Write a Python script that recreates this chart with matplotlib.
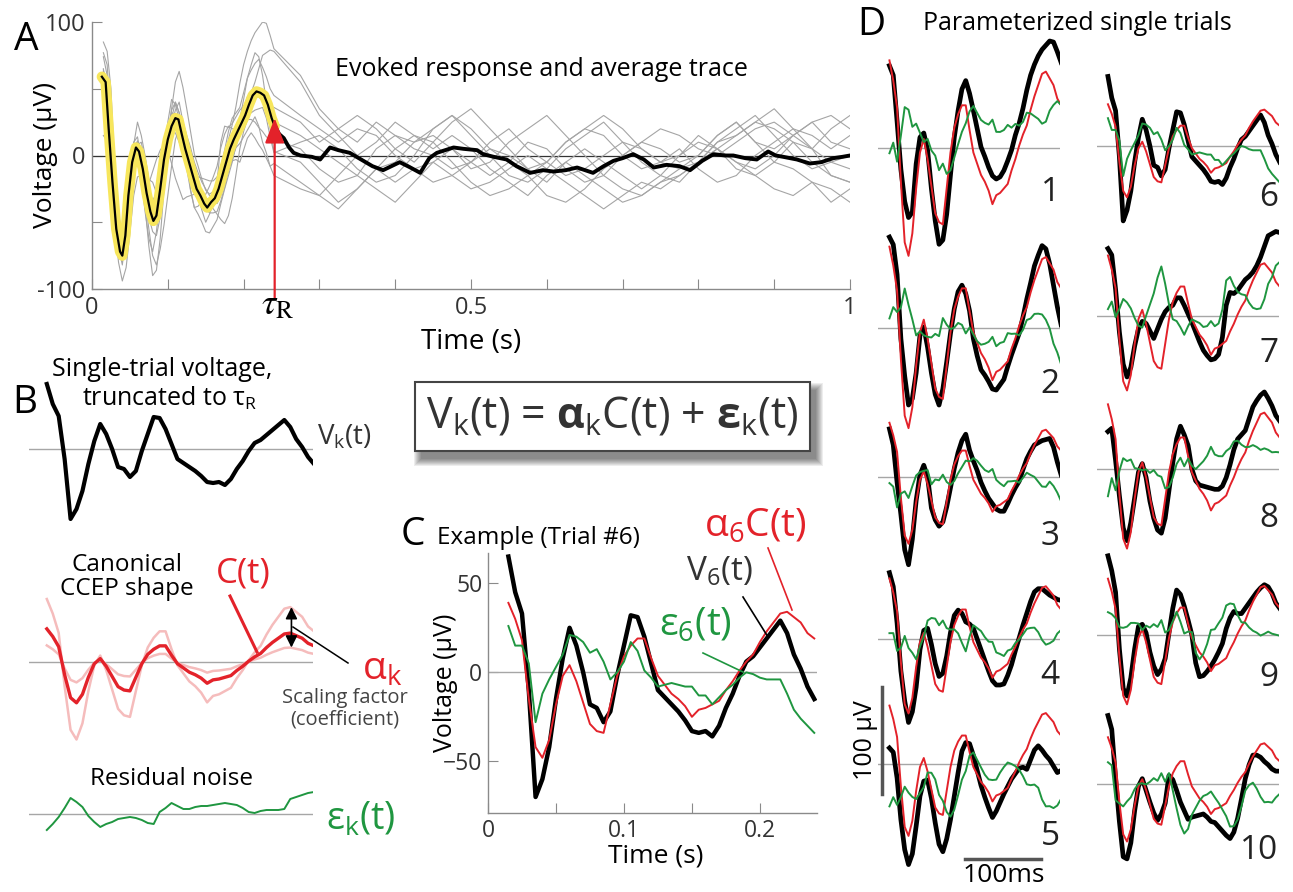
import numpy as np
import matplotlib
matplotlib.use('Agg')
import matplotlib.pyplot as plt
from matplotlib.patches import Rectangle

plt.rcParams['font.family'] = ['Open Sans', 'DejaVu Sans']
plt.rcParams['mathtext.fontset'] = 'custom'
plt.rcParams['mathtext.rm'] = 'Open Sans'
plt.rcParams['mathtext.it'] = 'Open Sans:italic'
plt.rcParams['mathtext.bf'] = 'Open Sans:bold'

W, H = 1293, 892

# ---- data (uV) ----
# sample times of the truncated single trials (s)
t_trial = np.round(0.015 + 0.005 * np.arange(46), 3)

# alpha_6 * C(t): canonical shape as fitted to trial 6
canon_c = [39, 30, 18, -15, -42, -48, -38, -18, -2, 4,
           -5, -17, -29, -33, -34, -18, -2, 9, 15, 19,
           19, 8, -2, -7, -12, -15, -19, -25, -21, -20,
           -18, -16, -10, -5, 1, 6, 10, 17, 23, 28,
           33, 34, 31, 28, 22, 19]

# scaling factors relative to trial 6
alphas = [2.1, 1.95, 1.3, 1.45, 1.4, 1.0, 1.45, 1.55, 1.35, 1.12]

trial_v = [
    [77, 68, 25, -20, -50, -65, -60, -15, 10, 14,
     -2, -38, -68, -90, -86, -62, -25, 10, 35, 55,
     63, 51, 35, 18, 1, -8, -18, -26, -29, -27,
     -21, -12, -2, 12, 23, 37, 54, 68, 78, 86,
     92, 96, 100, 99, 90, 80],
    [85, 78, 50, -10, -45, -72, -66, -42, -7, 1,
     -18, -42, -62, -72, -57, -32, -5, 18, 34, 40,
     32, 16, -10, -26, -39, -44, -50, -57, -58, -53,
     -48, -36, -25, -15, -5, 10, 27, 42, 58, 68,
     77, 74, 60, 40, 20, 3],
    [45, 30, -5, -35, -68, -82, -58, -22, 2, 11,
     0, -29, -40, -46, -42, -28, -10, 8, 23, 34,
     40, 25, 15, 6, -5, -13, -20, -25, -30, -32,
     -32, -25, -17, -10, -4, 7, 17, 24, 30, 32,
     34, 35, 36, 28, 14, 2],
    [62, 49, 15, -30, -58, -78, -68, -45, -10, 8,
     10, -5, -23, -35, -32, -16, 6, 22, 27, 24,
     16, 14, 10, 0, -10, -20, -30, -39, -43, -43,
     -42, -34, -24, -11, 1, 13, 24, 35, 44, 47,
     47, 44, 41, 39, 37, 36],
    [15, 11, -13, -52, -80, -94, -84, -58, -30, -16,
     -15, -32, -55, -75, -82, -70, -52, -30, -8, 12,
     20, 19, 8, -6, -20, -31, -41, -50, -44, -36,
     -28, -21, -14, -9, -4, -3, -5, 4, 13, 17,
     13, 8, 4, -2, -8, -6],
    [65, 45, 33, -10, -70, -60, -42, -15, 8, 25,
     15, 0, -18, -20, -28, -22, -2, 15, 32, 31,
     20, 5, -10, -14, -18, -22, -27, -33, -34, -33,
     -36, -30, -20, -12, -2, 6, 9, 14, 19, 24,
     29, 22, 10, 2, -8, -15],
    [63, 57, 25, -15, -45, -57, -48, -28, -12, -5,
     -7, -14, -21, -12, -3, 4, 8, 10, 17, 17,
     10, 2, -6, -15, -24, -32, -37, -41, -40, -36,
     -20, 10, 22, 21, 24, 29, 34, 37, 41, 47,
     55, 65, 75, 77, 79, 78],
    [35, 38, 8, -25, -55, -67, -50, -27, -3, 5,
     -8, -30, -46, -57, -60, -46, -20, 6, 28, 40,
     32, 22, 0, -11, -15, -16, -17, -18, -19, -19,
     -16, -8, 4, 18, 28, 32, 36, 47, 58, 64,
     69, 72, 66, 59, 50, 45],
    [74, 60, 40, -13, -50, -57, -40, -13, 8, 10,
     2, -16, -29, -37, -32, -22, 2, 25, 42, 38,
     27, 14, 0, -26, -39, -38, -34, -29, -23, -16,
     -8, 6, 16, 22, 20, 20, 25, 30, 35, 40,
     44, 47, 45, 39, 30, 25],
    [64, 51, 5, -35, -68, -70, -55, -25, -2, 5,
     -6, -17, -27, -34, -28, -18, 8, 4, -6, -17,
     -25, -33, -31, -30, -29, -28, -31, -35, -36, -40,
     -44, -48, -51, -45, -32, -14, 5, 18, 27, 27,
     25, 21, 18, 14, 12, 12],
]

# rest of each single trial after tau_R (s, uV)
tail_t = np.round(0.275 + 0.025 * np.arange(30), 3)
tail_v = [
    [60, 35, 20, 10, 25, 15, 5, 0, -10, -5, 10, 20, 5, -5, -15,
     -10, 0, 10, 5, -5, -10, 0, 15, 25, 10, 5, 15, 25, 10, 5],
    [-5, -20, -35, -25, -10, 5, 15, 10, -5, -20, -30, -25, -15, -5, 10,
     20, 15, 0, -10, -5, 5, -10, -20, -15, 0, 10, 20, 15, 5, 15],
    [10, 15, 5, -10, -20, -15, 0, 20, 30, 15, 0, -15, -20, -10, 5,
     15, 25, 10, -5, -15, -20, -5, 10, 20, 30, 15, 0, -10, -5, 0],
    [25, 10, 20, 30, 20, 5, -5, 10, 25, 35, 20, 5, -10, -20, -5,
     5, -5, -15, -25, -15, 0, 15, 5, -10, -15, -5, 10, 5, -15, -20],
    [-20, -30, -40, -25, -10, -5, 10, 15, 5, -10, -5, 10, 20, 30, 15,
     0, -15, -25, -30, -20, -15, -5, 5, 15, 25, 35, 20, 5, -5, -10],
    [-25, -30, -15, 0, 10, 25, 15, 5, 15, 5, -10, -20, -30, -15, -5,
     -15, -25, -35, -30, -20, -10, -5, 5, -5, -15, -25, -30, -20, -35, -25],
    [55, 30, 15, 0, -10, -20, -10, -5, -15, -25, -20, -10, 0, -10, -20,
     -30, -40, -30, -20, -25, -15, -5, 10, 15, 25, 20, 10, -5, -15, -20],
    [30, 20, 10, 20, 15, 0, -10, -20, -15, -5, 5, 0, -10, -5, 10,
     20, 30, 20, 5, -5, 0, 10, 5, -5, -10, 0, 15, 25, 30, 20],
    [15, 5, -5, -15, -25, -35, -20, -5, 5, -5, -15, -5, 10, 5, -10,
     -20, -15, 0, 10, 20, 15, 5, 0, 10, 20, 25, 15, 5, 20, 30],
    [5, -10, -20, -15, 5, 15, 10, 20, 30, 20, 5, -5, -15, -30, -35,
     -25, -10, 0, 10, 5, -5, 0, 15, 25, 10, -5, -10, -20, -25, -35],
]

# average evoked trace (s, uV)
avg_t = np.array([0.013, 0.018, 0.022, 0.027, 0.032, 0.037, 0.040, 0.044, 0.048, 0.053,
                  0.058, 0.062, 0.067, 0.072, 0.077, 0.081, 0.085, 0.090, 0.095, 0.100,
                  0.105, 0.110, 0.114, 0.118, 0.123, 0.128, 0.133, 0.138, 0.143, 0.148,
                  0.152, 0.157, 0.162, 0.167, 0.172, 0.177, 0.182, 0.187, 0.192, 0.197,
                  0.202, 0.207, 0.212, 0.217, 0.222, 0.227, 0.232, 0.237, 0.241,
                  0.247, 0.253, 0.260, 0.266, 0.275, 0.290, 0.301, 0.314, 0.325, 0.340,
                  0.355, 0.370, 0.384, 0.395, 0.406, 0.420, 0.433, 0.445, 0.455, 0.477,
                  0.490, 0.508, 0.516, 0.530, 0.547, 0.560, 0.578, 0.595, 0.609, 0.625,
                  0.640, 0.661, 0.675, 0.688, 0.700, 0.714, 0.728, 0.741, 0.758, 0.775,
                  0.789, 0.805, 0.820, 0.835, 0.846, 0.862, 0.877, 0.892, 0.902, 0.912,
                  0.930, 0.947, 0.962, 0.978, 0.990, 1.000])
avg_v = np.array([59, 55, 20, -20, -55, -72, -75, -60, -30, -5,
                  6, 3, -10, -28, -42, -49, -45, -25, -3, 12,
                  22, 28, 27, 17, 5, -5, -15, -25, -30, -36,
                  -39, -35, -32, -25, -15, -5, 5, 12, 18, 24,
                  30, 38, 45, 48, 47, 45, 38, 28, 22,
                  16, 13, 6, 2, 0, -1, -3, 6, 4, 2,
                  -3, -8, -11, -8, -5, -9, -13, -2, 2, 6,
                  5, 4, 1, -1, -3, -8, -13, -11, -12, -11,
                  -9, -13, -8, -4, -2, 1, -3, -9, -7, -8,
                  -11, -4, 1, 0, 0, -2, -3, 3, 0, -1,
                  -3, -6, -5, -2, -1, 0])
tau_r = 0.241

# residual noise example for panel B
resid_b = [-16, -10, -3, 6, 16, 12, 7, -2, -8, -13,
           -10, -8, -5, -4, -3, -4, -6, -9, -10, 2,
           6, 11, 8, 5, 5, 7, 8, 8, 9, 10,
           11, 10, 9, 6, 2, 1, 3, 4, 4, 4,
           5, 15, 17, 19, 21, 22]
env_scales = [1.9, 0.5]

assert all(len(v) == len(t_trial) for v in trial_v)

RED = '#e3222a'
GREEN = '#1f9640'
PINK = '#f5bcbc'
GREY_TXT = '#333333'
ZERO = '#a6a6a6'

fig = plt.figure(figsize=(W / 100, H / 100), dpi=100)


def px_axes(left, top, width, height):
    return fig.add_axes([left / W, 1 - (top + height) / H, width / W, height / H])


def trace_axes(left, zero, px_s, px_uv, t_max, up, down):
    ax = px_axes(left, zero - up, t_max * px_s, up + down)
    ax.set_xlim(0, t_max)
    ax.set_ylim(-down / px_uv, up / px_uv)
    ax.axis('off')
    ax.plot([0, t_max], [0, 0], color=ZERO, lw=1)
    return ax


def style_axes(ax, size=17, pad=5):
    for s in ['top', 'right']:
        ax.spines[s].set_visible(False)
    for s in ['left', 'bottom']:
        ax.spines[s].set_color('#8a8a8a')
        ax.spines[s].set_linewidth(1.0)
    ax.tick_params(direction='in', length=7, color='#8a8a8a', labelcolor=GREY_TXT,
                   labelsize=size, pad=pad)


# ---- A: evoked responses + average ----
ax_a = px_axes(92, 22, 758, 267)
ax_a.set_xlim(0, 1)
ax_a.set_ylim(-100, 100)
style_axes(ax_a)
ax_a.axhline(0, color='#333333', lw=0.9)
for v, tail in zip(trial_v, tail_v):
    ax_a.plot(np.r_[t_trial, tail_t], np.r_[v, tail], color='#a5a5a5', lw=0.8)
cut = int(np.searchsorted(avg_t, tau_r)) + 1
ax_a.plot(avg_t[:cut], avg_v[:cut], color='#f7e65c', lw=7.5, solid_capstyle='round')
ax_a.plot(avg_t[:cut], avg_v[:cut], color='k', lw=1.6)
ax_a.plot(avg_t[cut - 1:], avg_v[cut - 1:], color='k', lw=2.8)
ax_a.set_xticks(np.round(np.arange(0, 1.01, 0.1), 1))
ax_a.set_xticklabels(['0', '', '', '', '', '0.5', '', '', '', '', '1'])
ax_a.set_yticks([-100, -50, 0, 50, 100])
ax_a.set_yticklabels(['-100', '', '0', '', '100'])
ax_a.set_ylabel('Voltage (µV)', fontsize=19)
ax_a.yaxis.set_label_coords(-0.045, 0.5)
ax_a.set_xlabel('Time (s)', fontsize=20, labelpad=6)
ax_a.annotate('', xy=(tau_r, 28), xytext=(tau_r, -107),
              arrowprops=dict(arrowstyle='-|>,head_width=0.35,head_length=0.9',
                              color=RED, lw=1.6, shrinkA=0, shrinkB=0, mutation_scale=17),
              annotation_clip=False)

# ---- B: decomposition ----
px_s_b = 1187.5
ax_bv = trace_axes(29, 449, px_s_b, 1.0, 0.239, 80, 85)
ax_bv.plot(t_trial, trial_v[5], color='k', lw=3)

ax_bc = trace_axes(29, 662, px_s_b, 0.85, 0.239, 80, 95)
canon = np.array(canon_c, dtype=float)
for s in env_scales:
    ax_bc.plot(t_trial, s * canon, color=PINK, lw=1.8)
ax_bc.plot(t_trial, canon, color=RED, lw=2.4)
i_arr = 41
ax_bc.annotate('', xy=(0.221, env_scales[0] * canon[i_arr]),
               xytext=(0.221, env_scales[1] * canon[i_arr]),
               arrowprops=dict(arrowstyle='<|-|>,head_width=0.25,head_length=0.5',
                               color='k', lw=1.2, shrinkA=0, shrinkB=0, mutation_scale=14))

ax_be = trace_axes(29, 814, px_s_b, 1.0, 0.239, 40, 40)
ax_be.plot(t_trial, resid_b, color=GREEN, lw=1.4)

# ---- C: example trial 6 ----
ax_c = px_axes(488, 553, 329, 260)
ax_c.set_xlim(0, 0.242)
ax_c.set_ylim(-79, 67)
style_axes(ax_c, size=16.5, pad=4)
ax_c.axhline(0, color=ZERO, lw=1)
v6 = np.array(trial_v[5], dtype=float)
fit6 = alphas[5] * canon
ax_c.plot(t_trial, v6, color='k', lw=3.2)
ax_c.plot(t_trial, fit6, color=RED, lw=1.4)
ax_c.plot(t_trial, v6 - fit6, color=GREEN, lw=1.4)
ax_c.set_xticks([0, 0.05, 0.1, 0.15, 0.2])
ax_c.set_xticklabels(['0', '', '0.1', '', '0.2'])
ax_c.set_yticks([-50, 0, 50])
ax_c.set_ylabel('Voltage (µV)', fontsize=18)
ax_c.yaxis.set_label_coords(-0.09, 0.5)
ax_c.set_xlabel('Time (s)', fontsize=19)
ax_c.xaxis.set_label_coords(0.51, -0.118)

# ---- D: parameterized single trials ----
col_left = [878, 1096.5]
zero_px = [148, 328, 477, 639, 764, 146, 316, 469, 635, 784]
num_y = [-42, -53, -56, -34, -68, -48, -35, -46, -40, -62]
px_s_d, px_uv_d = 763, 1.07
d_axes = []
for k in range(10):
    ax = trace_axes(col_left[k // 5], zero_px[k], px_s_d, px_uv_d, 0.239, 125, 125)
    v = np.array(trial_v[k], dtype=float)
    fit = alphas[k] * canon
    ax.plot(t_trial, v, color='k', lw=3.4)
    ax.plot(t_trial, fit, color=RED, lw=1.4)
    ax.plot(t_trial, v - fit, color=GREEN, lw=1.4)
    ax.text(0.238, num_y[k], str(k + 1), fontsize=24, ha='right', va='center',
            color='#222222')
    d_axes.append(ax)
# scale bars (100 ms, 100 uV) in trial-5 axes
ax5 = d_axes[4]
ax5.plot([0.114, 0.214], [-88.8, -88.8], color='#555555', lw=2.5, clip_on=False)
ax5.plot([0.005, 0.005], [-28, 72], color='#555555', lw=2.5, clip_on=False)

# ---- overlay for labels in pixel space ----
ov = fig.add_axes([0, 0, 1, 1])
ov.set_xlim(0, W)
ov.set_ylim(H, 0)
ov.axis('off')

ov.text(26, 40, 'A', fontsize=28, ha='center', va='center')
ov.text(541, 70, 'Evoked response and average trace', fontsize=18, ha='center',
        va='center')
ov.text(278, 305, r'$\tau_{\mathrm{R}}$', fontsize=26, ha='center', va='center',
        math_fontfamily='stix')

ov.text(25, 403, 'B', fontsize=28, ha='center', va='center')
ov.text(162, 370, 'Single-trial voltage,', fontsize=18, ha='center', va='center')
ov.text(170, 398, 'truncated to τ$_{\\mathrm{R}}$', fontsize=18, ha='center', va='center')
ov.text(317, 437, 'V$_{\\mathrm{k}}$(t)', fontsize=20, ha='left', va='center',
        color=GREY_TXT)

ov.text(127, 565, 'Canonical', fontsize=17.5, ha='center', va='center')
ov.text(127, 589, 'CCEP shape', fontsize=17.5, ha='center', va='center')
ov.text(243, 573, 'C(t)', fontsize=25, ha='center', va='center', color=RED)
ov.plot([230, 257], [596, 652], color=RED, lw=2.2)
ov.plot([293, 348], [627, 663], color='k', lw=1.1)
ov.text(362, 670, 'α$_{\\mathrm{k}}$', fontsize=28, ha='left', va='center', color=RED)
ov.text(345, 698, 'Scaling factor', fontsize=14.5, ha='center', va='center',
        color='#444444')
ov.text(345, 719, '(coefficient)', fontsize=14.5, ha='center', va='center',
        color='#444444')
ov.text(172, 779, 'Residual noise', fontsize=17.5, ha='center', va='center')
ov.text(326, 820, 'ε$_{\\mathrm{k}}$(t)', fontsize=27, ha='left', va='center',
        color=GREEN)

# equation box with drop shadow
for i in range(8):
    ov.add_patch(Rectangle((421 - i, 390 - i), 395 + 2 * i, 69 + 2 * i,
                           facecolor='k', edgecolor='none', alpha=0.07, zorder=1))
ov.add_patch(Rectangle((415, 382), 395, 69, facecolor='white', edgecolor='#444444',
                       lw=1.5, zorder=2))
ov.text(612, 416, 'V$_{\\mathrm{k}}$(t) = $\\mathbf{α}_{\\mathrm{k}}$C(t) + '
        '$\\mathbf{ε}_{\\mathrm{k}}$(t)',
        fontsize=31, ha='center', va='center', color=GREY_TXT, zorder=3)

ov.text(413, 535, 'C', fontsize=28, ha='center', va='center')
ov.text(437, 538, 'Example (Trial #6)', fontsize=17.5, ha='left', va='center')
ov.text(755, 527, 'α$_{6}$C(t)', fontsize=28, ha='center', va='center', color=RED)
ov.text(719, 572, 'V$_{6}$(t)', fontsize=24, ha='center', va='center', color=GREY_TXT)
ov.text(695, 626, 'ε$_{6}$(t)', fontsize=28, ha='center', va='center', color=GREEN)
ov.plot([768, 792], [548, 610], color=RED, lw=1.2)
ov.plot([743, 768], [597, 637], color='k', lw=1.2)
ov.plot([703, 743], [653, 672], color=GREEN, lw=1.2)

ov.text(871, 25, 'D', fontsize=28, ha='center', va='center')
ov.text(1077, 23, 'Parameterized single trials', fontsize=18, ha='center', va='center')
ov.text(1004, 876, '100ms', fontsize=19, ha='center', va='center')
ov.text(866, 740, '100 µV', fontsize=18, ha='center', va='center', rotation=90)

fig.savefig('out.png', dpi=100)
